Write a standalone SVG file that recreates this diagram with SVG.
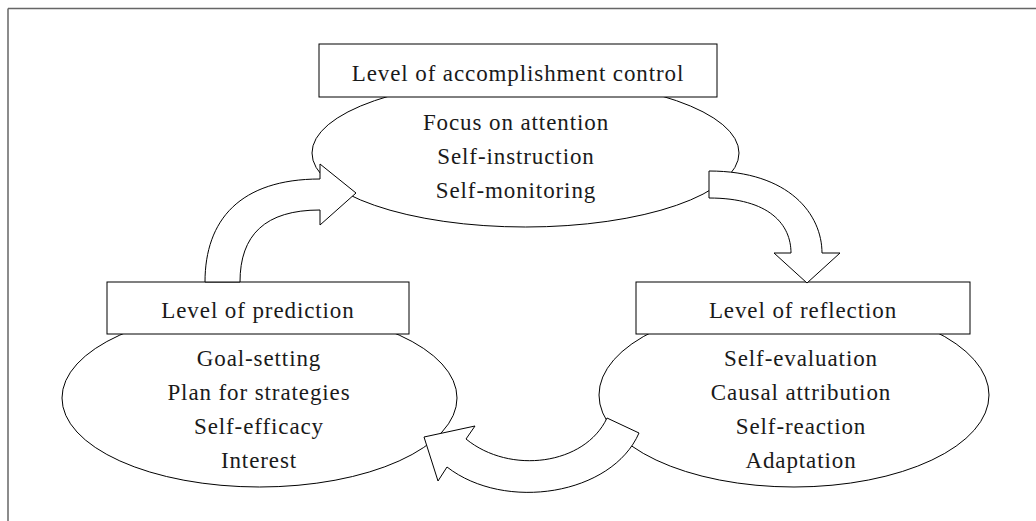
<svg xmlns="http://www.w3.org/2000/svg" width="1036" height="521" viewBox="0 0 1036 521">
<style>
  .shape { fill: #ffffff; stroke: #000000; stroke-width: 1; }
  .arrow { fill: #ffffff; stroke: #000000; stroke-width: 1; stroke-linejoin: miter; }
  .frame { stroke: #666666; stroke-width: 1.5; fill: none; }
</style>
<rect x="0" y="0" width="1036" height="521" fill="#ffffff"/>
<g id="frame">
  <line class="frame" x1="8" y1="8.5" x2="1036" y2="8.5"/>
  <line class="frame" x1="8" y1="8.5" x2="8" y2="521"/>
</g>
<g id="node-accomplishment">
  <ellipse class="shape" cx="525.5" cy="153" rx="213.5" ry="74"/>
  <rect class="shape" x="319" y="44" width="398" height="53"/>
  <g font-family="Liberation Serif, DejaVu Serif, serif" font-size="23" letter-spacing="0.9" fill="#1a1a1a" text-anchor="middle">
    <text x="518" y="81">Level of accomplishment control</text>
    <text x="516" y="130">Focus on attention</text>
    <text x="516" y="164">Self-instruction</text>
    <text x="516" y="198">Self-monitoring</text>
  </g>
</g>
<g id="node-prediction">
  <ellipse class="shape" cx="259.5" cy="398" rx="197.5" ry="89"/>
  <rect class="shape" x="107" y="282" width="302" height="52"/>
  <g font-family="Liberation Serif, DejaVu Serif, serif" font-size="23" letter-spacing="0.9" fill="#1a1a1a" text-anchor="middle">
    <text x="258" y="318">Level of prediction</text>
    <text x="259" y="366">Goal-setting</text>
    <text x="259" y="400">Plan for strategies</text>
    <text x="259" y="434">Self-efficacy</text>
    <text x="259" y="468">Interest</text>
  </g>
</g>
<g id="node-reflection">
  <ellipse class="shape" cx="794" cy="395" rx="195" ry="92"/>
  <rect class="shape" x="636" y="282" width="334" height="52"/>
  <g font-family="Liberation Serif, DejaVu Serif, serif" font-size="23" letter-spacing="0.9" fill="#1a1a1a" text-anchor="middle">
    <text x="803" y="318">Level of reflection</text>
    <text x="801" y="366">Self-evaluation</text>
    <text x="801" y="400">Causal attribution</text>
    <text x="801" y="434">Self-reaction</text>
    <text x="801" y="468">Adaptation</text>
  </g>
</g>
<g id="connectors">
  <path id="arrow-prediction-to-accomplishment" class="arrow" d="M205,282 C205,220 240,179 320,179 L320,164 L356,193 L320,225 L320,210 C265,210 240,235 240,282 Z"/>
  <path id="arrow-accomplishment-to-reflection" class="arrow" d="M709,171 C790,171 822,215 822,253 L840,253 L807,283 L774,253 L791,253 C791,225 770,198 709,198 Z"/>
  <path id="arrow-reflection-to-prediction" class="arrow" d="M639,433 C612,495 505,512 447,467 L438,481 L424,437 L475,426 L466,439 C510,475 585,465 607,418 Z"/>
</g>
</svg>
